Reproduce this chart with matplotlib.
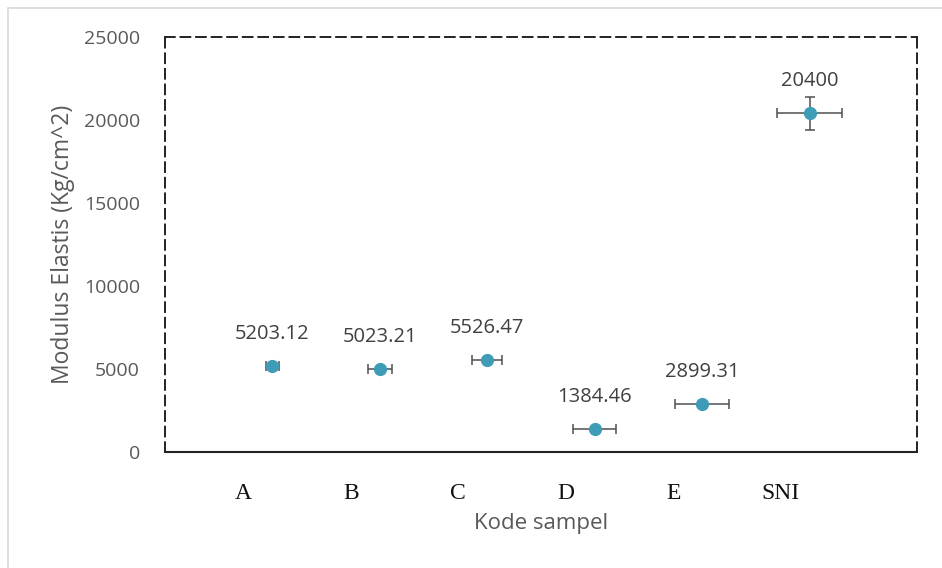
import matplotlib
matplotlib.use("Agg")
import matplotlib.pyplot as plt
from matplotlib.patches import Rectangle

categories = ["A", "B", "C", "D", "E", "SNI"]
values = [5203.12, 5023.21, 5526.47, 1384.46, 2899.31, 20400]
value_labels = ["5203.12", "5023.21", "5526.47", "1384.46", "2899.31", "20400"]
x_err = [0.06, 0.11, 0.14, 0.20, 0.25, 0.30]
y_err = [0, 0, 0, 0, 0, 1000]
y_ticks = [0, 5000, 10000, 15000, 20000, 25000]

W, H, DPI = 942, 568, 100
fig = plt.figure(figsize=(W / DPI, H / DPI), dpi=DPI)
fig.patch.set_facecolor("white")

SANS = "Open Sans"

# outer light border
fig.patches.append(Rectangle((8 / W, -0.1), 1.2, 1 - 8 / H + 0.1, transform=fig.transFigure,
                             fill=False, edgecolor="#d9d9d9", linewidth=1.2))

left, right, top, bottom = 165, 917, 37, 452
ax = fig.add_axes([left / W, 1 - bottom / H, (right - left) / W, (bottom - top) / H])

xs = list(range(1, len(values) + 1))
ax.errorbar(xs, values, xerr=x_err, yerr=y_err, fmt="o", color="#3F9CB6",
            markersize=8.5, ecolor="#505050", elinewidth=1.1, capsize=3.5,
            capthick=1.1, zorder=3)

for x, v, lab in zip(xs, values, value_labels):
    ax.annotate(lab, (x, v), xytext=(0, 23), textcoords="offset points",
                ha="center", va="center", fontsize=14.5, color="#404040", family=SANS)

ax.set_xlim(0, len(values) + 1)
ax.set_ylim(0, 25000)
ax.set_yticks(y_ticks)
ax.set_yticklabels([str(t) for t in y_ticks], fontsize=14, color="#595959", family=SANS)
ax.tick_params(axis="y", length=0, pad=18)

ax.set_xticks([x - 0.27 for x in xs])
ax.set_xticklabels(categories, fontsize=17, family="Liberation Serif", color="#111111")
ax.tick_params(axis="x", length=0, pad=22)

for side in ["top", "right", "left"]:
    ax.spines[side].set_linestyle((0, (5, 3)))
    ax.spines[side].set_linewidth(1.4)
    ax.spines[side].set_color("#222222")
ax.spines["bottom"].set_linewidth(1.5)
ax.spines["bottom"].set_color("#222222")

ax.set_xlabel("Kode sampel", fontsize=16, color="#595959", family=SANS, labelpad=7)
ax.set_ylabel("Modulus Elastis (Kg/cm^2)", fontsize=16.5, color="#595959", family=SANS, labelpad=6)

fig.savefig("out.png", dpi=DPI)
